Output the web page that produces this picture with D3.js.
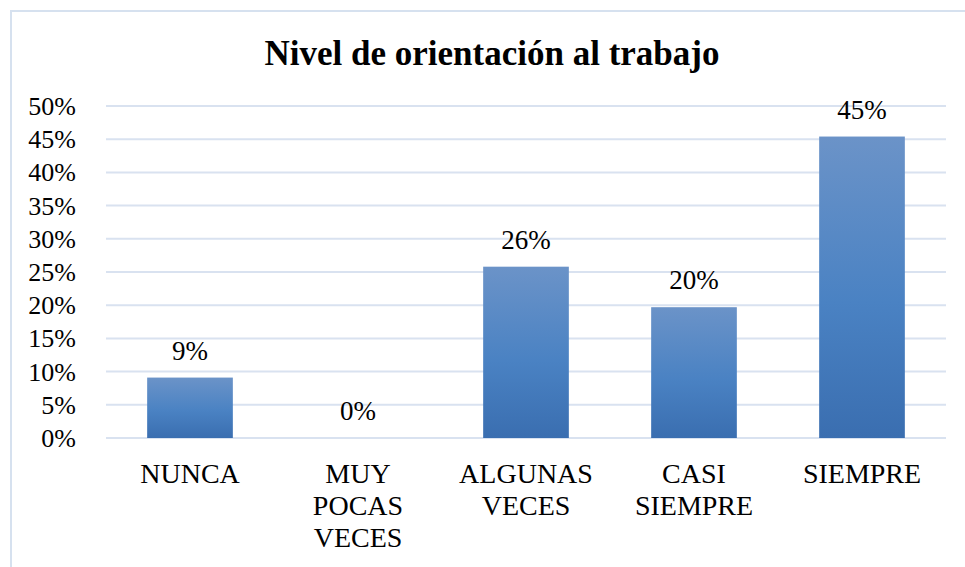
<!DOCTYPE html>
<html>
<head>
<meta charset="utf-8">
<script src="https://cdn.jsdelivr.net/npm/d3@7"></script>
<style>
  body { margin: 0; background: #fff; }
  svg text { font-family: "Times New Roman", "Liberation Serif", serif; fill: #000; }
</style>
</head>
<body>
<svg id="chart" width="965" height="567"></svg>
<script>
// datos del gráfico
const categories = [["NUNCA"], ["MUY", "POCAS", "VECES"], ["ALGUNAS", "VECES"], ["CASI", "SIEMPRE"], ["SIEMPRE"]];
const values = [0.091, 0, 0.258, 0.197, 0.454];
const yTicks = [0, 0.05, 0.10, 0.15, 0.20, 0.25, 0.30, 0.35, 0.40, 0.45, 0.50];
const title = "Nivel de orientación al trabajo";

const svg = d3.select("#chart");
const margin = {left: 106, right: 19, top: 106, bottom: 129};
const width = 965, height = 567;
const fmt = d3.format(".0%");

// marco del gráfico
svg.append("rect")
    .attr("x", 11).attr("y", 11)
    .attr("width", 970).attr("height", 570)
    .attr("fill", "#fff")
    .attr("stroke", "#d6e1ef")
    .attr("stroke-width", 2);

svg.append("text")
    .attr("x", 492).attr("y", 65)
    .attr("text-anchor", "middle")
    .style("font-size", "35px")
    .style("font-weight", "bold")
    .text(title);

// gradiente de las barras
const grad = svg.append("defs").append("linearGradient")
    .attr("id", "barGrad")
    .attr("x1", 0).attr("y1", 0).attr("x2", 0).attr("y2", 1);
grad.append("stop").attr("offset", "0%").attr("stop-color", "#6b93c8");
grad.append("stop").attr("offset", "55%").attr("stop-color", "#4a82c3");
grad.append("stop").attr("offset", "100%").attr("stop-color", "#3a6eb0");

const x = d3.scaleBand()
    .domain(d3.range(categories.length))
    .range([margin.left, width - margin.right])
    .paddingInner(0.49)
    .paddingOuter(0.245);

const y = d3.scaleLinear()
    .domain([0, 0.5])
    .range([height - margin.bottom, margin.top]);

// lineas de grilla
svg.append("g")
    .selectAll("line")
    .data(yTicks)
    .enter().append("line")
    .attr("x1", margin.left)
    .attr("x2", width - margin.right)
    .attr("y1", d => y(d))
    .attr("y2", d => y(d))
    .attr("stroke", "#d9e2f0")
    .attr("stroke-width", 2);

// eje y
const yAxis = svg.append("g")
    .attr("transform", `translate(${margin.left - 30},0)`)
    .call(d3.axisLeft(y).tickValues(yTicks).tickFormat(fmt).tickSize(0).tickPadding(0));
yAxis.attr("font-family", null).attr("font-size", null);
yAxis.select(".domain").remove();
yAxis.selectAll("text")
    .attr("dy", "0.33em")
    .style("font-size", "26px");

// barras
svg.append("g")
    .selectAll("rect")
    .data(values)
    .enter().append("rect")
    .attr("x", (d, i) => x(i))
    .attr("y", d => y(d))
    .attr("width", x.bandwidth())
    .attr("height", d => y(0) - y(d))
    .attr("fill", "url(#barGrad)");

// etiquetas de datos
svg.append("g")
    .selectAll("text")
    .data(values)
    .enter().append("text")
    .attr("x", (d, i) => x(i) + x.bandwidth() / 2)
    .attr("y", d => y(d) - 18)
    .attr("text-anchor", "middle")
    .style("font-size", "27px")
    .text(d => fmt(d));

// etiquetas de categorias
const catG = svg.append("g")
    .selectAll("text")
    .data(categories)
    .enter().append("text")
    .attr("x", (d, i) => x(i) + x.bandwidth() / 2)
    .attr("y", 483)
    .attr("text-anchor", "middle")
    .style("font-size", "28px");
catG.selectAll("tspan")
    .data(d => d)
    .enter().append("tspan")
    .attr("x", function() { return d3.select(this.parentNode).attr("x"); })
    .attr("dy", (d, i) => i === 0 ? 0 : 32)
    .text(d => d);
</script>
</body>
</html>
